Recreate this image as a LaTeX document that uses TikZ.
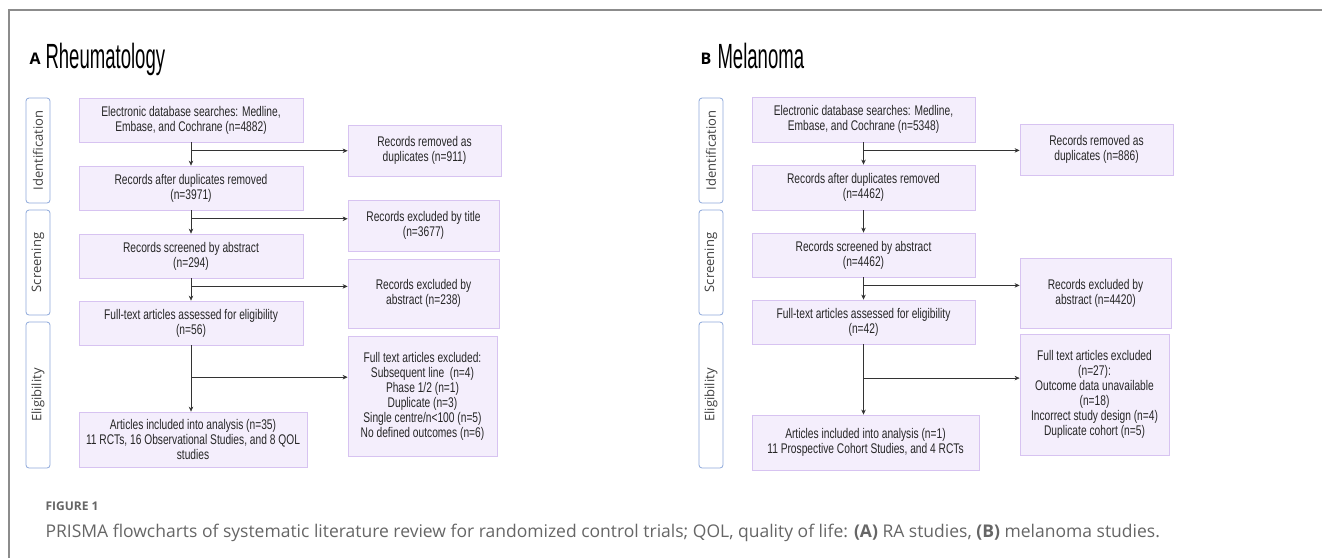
\documentclass[tikz,border=0pt]{standalone}
\usepackage{fontspec}
\setmainfont{Liberation Sans}[FakeStretch=0.73]
\newfontfamily\titlefont{Liberation Sans}[FakeStretch=0.53]
\newfontfamily\labelfont{Open Sans}
\usetikzlibrary{arrows.meta,calc}
\definecolor{boxfill}{HTML}{F4EEFC}
\definecolor{boxline}{HTML}{D7C3F1}
\definecolor{tagline}{HTML}{8EA9DB}
\definecolor{arrowgrey}{HTML}{333333}
\definecolor{framegrey}{HTML}{8C8C8C}
\definecolor{captiongrey}{HTML}{666666}

\begin{document}
\begin{tikzpicture}[x=1pt, y=-1pt,
	flowbox/.style={draw=boxline, fill=boxfill, line width=0.8pt, align=center, inner sep=2pt, text=black!85, font=\fontsize{14}{15}\selectfont},
	stagetag/.style={draw=tagline, fill=white, rounded corners=3pt, line width=0.8pt, rotate=90, minimum height=24pt, inner sep=1pt, text=black!75, font=\labelfont\fontsize{13}{14}\selectfont},
	flowarrow/.style={-{Stealth[length=5pt,width=4.5pt]}, draw=arrowgrey, line width=0.6pt},
	paneltag/.style={anchor=base west, font=\labelfont\bfseries\fontsize{16}{16}\selectfont},
	paneltitle/.style={anchor=base west, font=\titlefont\fontsize{35}{35}\selectfont}]

	\useasboundingbox (0,0) rectangle (1322,558);
	\fill[white] (0,0) rectangle (1322,558);
	\draw[framegrey, line width=2pt] (9,558) -- (9,10) -- (1322,10);

	\node[paneltag] (atag) at (26,64) {A};
	\node[paneltitle] (atitle) at (42,68) {Rheumatology};
	\node[paneltag] (btag) at (697,64) {B};
	\node[paneltitle] (btitle) at (714,68) {Melanoma};

	\node[stagetag, minimum width=105pt] (aid) at (38,150.5) {Identification};
	\node[stagetag, minimum width=105pt] (ascr) at (38,262.5) {Screening};
	\node[stagetag, minimum width=146pt] (aeli) at (38,395) {Eligibility};
	\node[stagetag, minimum width=105pt] (bid) at (711,150.5) {Identification};
	\node[stagetag, minimum width=105pt] (bscr) at (711,262.5) {Screening};
	\node[stagetag, minimum width=146pt] (beli) at (711,395) {Eligibility};

	\node[flowbox, minimum width=224pt, minimum height=44pt] (a1) at (191,120) {Electronic database searches: Medline,\\Embase, and Cochrane (n=4882)};
	\node[flowbox, minimum width=224pt, minimum height=44pt] (a2) at (191,188) {Records after duplicates removed\\(n=3971)};
	\node[flowbox, minimum width=224pt, minimum height=44pt] (a3) at (191,256) {Records screened by abstract\\(n=294)};
	\node[flowbox, minimum width=224pt, minimum height=44pt] (a4) at (191,323) {Full-text articles assessed for eligibility\\(n=56)};
	\node[flowbox, minimum width=228pt, minimum height=55pt] (a5) at (193,439.5) {Articles included into analysis (n=35)\\11 RCTs, 16 Observational Studies, and 8 QOL\\studies};

	\node[flowbox, minimum width=153pt, minimum height=51pt] (ax1) at (424.5,150.5) {Records removed as\\duplicates (n=911)};
	\node[flowbox, minimum width=151pt, minimum height=51pt] (ax2) at (423.5,225.5) {Records excluded by title\\(n=3677)};
	\node[flowbox, minimum width=151pt, minimum height=69pt] (ax3) at (423.5,293.5) {Records excluded by\\abstract (n=238)};
	\node[flowbox, minimum width=149pt, minimum height=120pt] (ax4) at (422.5,396) {Full text articles excluded:\\Subsequent line\ \ (n=4)\\Phase 1/2 (n=1)\\Duplicate (n=3)\\Single centre/n<100 (n=5)\\No defined outcomes (n=6)};

	\node[flowbox, minimum width=223pt, minimum height=45pt] (b1) at (863.5,119.5) {Electronic database searches: Medline,\\Embase, and Cochrane (n=5348)};
	\node[flowbox, minimum width=223pt, minimum height=45pt] (b2) at (863.5,187.5) {Records after duplicates removed\\(n=4462)};
	\node[flowbox, minimum width=223pt, minimum height=44pt] (b3) at (863.5,255) {Records screened by abstract\\(n=4462)};
	\node[flowbox, minimum width=223pt, minimum height=44pt] (b4) at (863.5,322) {Full-text articles assessed for eligibility\\(n=42)};
	\node[flowbox, minimum width=227pt, minimum height=55pt] (b5) at (865.5,442.5) {Articles included into analysis (n=1)\\11 Prospective Cohort Studies, and 4 RCTs};

	\node[flowbox, minimum width=153pt, minimum height=51pt] (bx1) at (1096.5,149.5) {Records removed as\\duplicates (n=886)};
	\node[flowbox, minimum width=151pt, minimum height=70pt] (bx3) at (1095.5,293) {Records excluded by\\abstract (n=4420)};
	\node[flowbox, minimum width=149pt, minimum height=121pt] (bx4) at (1094.5,394.5) {Full text articles excluded\\(n=27):\\Outcome data unavailable\\(n=18)\\Incorrect study design (n=4)\\Duplicate cohort (n=5)};

	\coordinate (am1) at ($(a1.south)!0.36!(a2.north)$);
	\coordinate (am2) at ($(a2.south)!0.36!(a3.north)$);
	\coordinate (am3) at ($(a3.south)!0.36!(a4.north)$);
	\coordinate (am4) at ($(a4.south)!0.48!(a4.south |- a5.north)$);
	\coordinate (bm1) at ($(b1.south)!0.36!(b2.north)$);
	\coordinate (bm3) at ($(b3.south)!0.36!(b4.north)$);
	\coordinate (bm4) at ($(b4.south)!0.48!(b4.south |- b5.north)$);

	\draw[flowarrow] (a1) -- (a2);
	\draw[flowarrow] (a2) -- (a3);
	\draw[flowarrow] (a3) -- (a4);
	\draw[flowarrow] (a4.south) -- (a4.south |- a5.north);
	\draw[flowarrow] (am1) -- (am1 -| ax1.west);
	\draw[flowarrow] (am2) -- (am2 -| ax2.west);
	\draw[flowarrow] (am3) -- (am3 -| ax3.west);
	\draw[flowarrow] (am4) -- (am4 -| ax4.west);

	\draw[flowarrow] (b1) -- (b2);
	\draw[flowarrow] (b2) -- (b3);
	\draw[flowarrow] (b3) -- (b4);
	\draw[flowarrow] (b4.south) -- (b4.south |- b5.north);
	\draw[flowarrow] (bm1) -- (bm1 -| bx1.west);
	\draw[flowarrow] (bm3) -- (bm3 -| bx3.west);
	\draw[flowarrow] (bm4) -- (bm4 -| bx4.west);

	\node[anchor=base west, text=captiongrey, font=\labelfont\bfseries\fontsize{12}{14}\selectfont] (fighead) at (42,510) {FIGURE 1};
	\node[anchor=base west, text=captiongrey, font=\labelfont\fontsize{17.5}{19}\selectfont] (figcap) at (42,537) {PRISMA flowcharts of systematic literature review for randomized control trials; QOL, quality of life: \textbf{(A)} RA studies, \textbf{(B)} melanoma studies.};

\end{tikzpicture}
\end{document}
